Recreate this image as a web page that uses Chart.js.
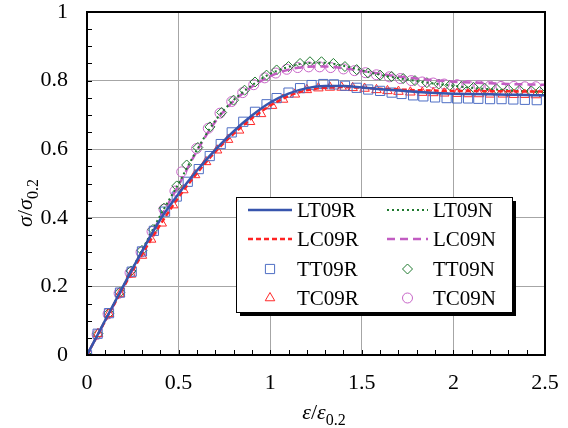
<!DOCTYPE html>
<html>
<head>
<meta charset="utf-8">
<script src="https://cdn.jsdelivr.net/npm/chart.js@4.4.0/dist/chart.umd.min.js"></script>
<style>
  html, body { margin: 0; padding: 0; background: #fff; }
  #wrap { width: 568px; height: 428px; }
</style>
</head>
<body>
<div id="wrap"><canvas id="c" width="568" height="428"></canvas></div>
<script>
// strain grid for the fitted curves (eps / eps0.2)
var strainGrid = [0, 0.1, 0.2, 0.3, 0.4, 0.5, 0.6, 0.7, 0.8, 0.9, 1.0, 1.1, 1.2, 1.3, 1.4, 1.5, 1.6, 1.7, 1.8, 1.9, 2.0, 2.1, 2.2, 2.3, 2.4, 2.5];

// curves (sigma / sigma0.2)
var lt09R = [0, 0.102, 0.203, 0.302, 0.395, 0.470, 0.538, 0.598, 0.652, 0.698, 0.736, 0.762, 0.778, 0.784, 0.784, 0.780, 0.775, 0.771, 0.767, 0.764, 0.762, 0.761, 0.760, 0.759, 0.758, 0.757];
var lc09R = [0, 0.100, 0.198, 0.293, 0.380, 0.460, 0.530, 0.592, 0.645, 0.690, 0.727, 0.755, 0.772, 0.779, 0.781, 0.779, 0.776, 0.774, 0.772, 0.771, 0.770, 0.770, 0.769, 0.769, 0.768, 0.768];
var lt09N = [0, 0.102, 0.203, 0.305, 0.407, 0.500, 0.598, 0.683, 0.743, 0.786, 0.820, 0.840, 0.851, 0.852, 0.843, 0.830, 0.817, 0.807, 0.799, 0.791, 0.785, 0.779, 0.775, 0.772, 0.769, 0.767];
var lc09N = [0, 0.100, 0.200, 0.300, 0.400, 0.495, 0.595, 0.680, 0.740, 0.782, 0.813, 0.832, 0.840, 0.841, 0.836, 0.828, 0.820, 0.812, 0.806, 0.801, 0.797, 0.794, 0.792, 0.790, 0.789, 0.788];

// test points
var tt09R_x = [0, 0.058, 0.12, 0.18, 0.244, 0.30, 0.365, 0.426, 0.49, 0.55, 0.61, 0.67, 0.73, 0.79, 0.853, 0.917, 0.98, 1.035, 1.1, 1.163, 1.226, 1.29, 1.348, 1.408, 1.472, 1.535, 1.6, 1.663, 1.717, 1.78, 1.836, 1.9, 1.963, 2.02, 2.08, 2.136, 2.2, 2.263, 2.327, 2.39, 2.455];
var tt09R_y = [0, 0.062, 0.122, 0.182, 0.243, 0.302, 0.362, 0.418, 0.462, 0.505, 0.542, 0.580, 0.615, 0.649, 0.680, 0.709, 0.731, 0.749, 0.765, 0.778, 0.787, 0.790, 0.789, 0.785, 0.779, 0.774, 0.770, 0.765, 0.761, 0.757, 0.754, 0.751, 0.749, 0.748, 0.748, 0.747, 0.746, 0.746, 0.745, 0.744, 0.743];

var tc09R_x = [0, 0.06, 0.12, 0.18, 0.24, 0.30, 0.35, 0.408, 0.47, 0.526, 0.59, 0.65, 0.71, 0.77, 0.83, 0.89, 0.95, 1.01, 1.07, 1.135, 1.2, 1.263, 1.326, 1.39, 1.45, 1.515, 1.58, 1.64, 1.70, 1.765, 1.83, 1.89, 1.95, 2.02, 2.08, 2.14, 2.2, 2.27, 2.33, 2.39, 2.45];
var tc09R_y = [0, 0.062, 0.120, 0.178, 0.235, 0.290, 0.337, 0.384, 0.437, 0.481, 0.525, 0.563, 0.597, 0.628, 0.655, 0.680, 0.703, 0.727, 0.745, 0.760, 0.773, 0.778, 0.780, 0.780, 0.779, 0.777, 0.773, 0.770, 0.768, 0.766, 0.765, 0.764, 0.763, 0.762, 0.761, 0.761, 0.760, 0.760, 0.759, 0.759, 0.758];

var tt09N_x = [0, 0.06, 0.12, 0.18, 0.24, 0.30, 0.36, 0.42, 0.49, 0.544, 0.605, 0.671, 0.735, 0.80, 0.86, 0.917, 0.98, 1.035, 1.1, 1.163, 1.217, 1.28, 1.345, 1.408, 1.472, 1.535, 1.6, 1.663, 1.726, 1.79, 1.855, 1.92, 1.98, 2.045, 2.11, 2.17, 2.235, 2.3, 2.36, 2.425, 2.47];
var tt09N_y = [0, 0.062, 0.122, 0.183, 0.245, 0.305, 0.366, 0.428, 0.493, 0.554, 0.605, 0.665, 0.707, 0.743, 0.772, 0.796, 0.816, 0.831, 0.841, 0.850, 0.855, 0.855, 0.850, 0.841, 0.832, 0.822, 0.816, 0.812, 0.806, 0.800, 0.794, 0.790, 0.786, 0.783, 0.780, 0.778, 0.776, 0.774, 0.772, 0.770, 0.768];

var tc09N_x = [0, 0.055, 0.115, 0.175, 0.235, 0.295, 0.355, 0.42, 0.48, 0.517, 0.598, 0.662, 0.726, 0.79, 0.85, 0.91, 0.97, 1.03, 1.09, 1.15, 1.21, 1.27, 1.33, 1.40, 1.46, 1.52, 1.58, 1.65, 1.71, 1.77, 1.83, 1.89, 1.95, 2.02, 2.08, 2.14, 2.2, 2.26, 2.33, 2.39, 2.45];
var tc09N_y = [0, 0.060, 0.120, 0.180, 0.240, 0.300, 0.360, 0.425, 0.478, 0.534, 0.602, 0.661, 0.705, 0.739, 0.765, 0.788, 0.808, 0.822, 0.833, 0.838, 0.840, 0.840, 0.838, 0.834, 0.829, 0.823, 0.817, 0.811, 0.806, 0.800, 0.796, 0.793, 0.790, 0.788, 0.786, 0.785, 0.784, 0.783, 0.783, 0.782, 0.782];

// tick labels
var xTickValues = [0, 0.5, 1, 1.5, 2, 2.5];
var xTickLabels = ['0', '0.5', '1', '1.5', '2', '2.5'];
var yTickValues = [0, 0.2, 0.4, 0.6, 0.8, 1];
var yTickLabels = ['0', '0.2', '0.4', '0.6', '0.8', '1'];

var FONT = "'Liberation Serif', 'DejaVu Serif', serif";

function pairs(xs, ys) {
    return xs.map(function (x, i) { return { x: x, y: ys[i] }; });
}

function findLabel(v, values, labels) {
    for (var i = 0; i < values.length; i++) {
        if (Math.abs(v - values[i]) < 1e-6) return labels[i];
    }
    return '';
}

function isMajor(v, values) {
    return findLabel(v, values, values.map(function () { return 'x'; })) !== '';
}

// lignes
function curve(label, ys, color, dash, width) {
    return {
        label: label, data: pairs(strainGrid, ys), showLine: true,
        borderColor: color, borderWidth: width, borderDash: dash,
        pointRadius: 0, cubicInterpolationMode: 'monotone', order: 0
    };
}

// points
function points(label, xs, ys, color, style, radius) {
    return {
        label: label, data: pairs(xs, ys), showLine: false,
        borderColor: color, backgroundColor: 'rgba(0,0,0,0)', borderWidth: 1,
        pointStyle: style, pointRadius: radius, order: 1
    };
}

var datasets = [
    curve('LT09R', lt09R, '#3755ad', [], 2.5),
    curve('LC09R', lc09R, '#ff2323', [5, 3], 2.5),
    points('TT09R', tt09R_x, tt09R_y, '#4e6ec4', 'rect', 6.5),
    points('TC09R', tc09R_x, tc09R_y, '#ff2a2a', 'triangle', 5.5),
    curve('LT09N', lt09N, '#1f7a2f', [2, 3], 2),
    curve('LC09N', lc09N, '#c25cc2', [8, 5], 2.5),
    points('TT09N', tt09N_x, tt09N_y, '#1f7a2f', 'rectRot', 5),
    points('TC09N', tc09N_x, tc09N_y, '#c866c8', 'circle', 5)
];

/* cadre, petits traits vers l'interieur, titres et legende */
var decorations = {
    id: 'decorations',
    afterDatasetsDraw: function (chart) {
        var c = chart.ctx;
        var a = chart.chartArea;
        var xs = chart.scales.x, ys = chart.scales.y;
        c.save();
        c.strokeStyle = '#000';
        c.lineWidth = 1;
        xs.ticks.forEach(function (t) {
            var px = Math.round(xs.getPixelForValue(t.value)) + 0.5;
            c.beginPath(); c.moveTo(px, a.bottom); c.lineTo(px, a.bottom - 5); c.stroke();
        });
        ys.ticks.forEach(function (t) {
            var py = Math.round(ys.getPixelForValue(t.value)) + 0.5;
            c.beginPath(); c.moveTo(a.left, py); c.lineTo(a.left + 5, py); c.stroke();
        });
        c.lineWidth = 2;
        c.strokeRect(a.left, a.top, a.right - a.left, a.bottom - a.top);

        // titres des axes
        c.fillStyle = '#000';
        c.textBaseline = 'alphabetic';
        drawRich(c, [['ε', 'italic 22px ' + FONT, 0], ['/', '22px ' + FONT, 0], ['ε', 'italic 22px ' + FONT, 0], ['0.2', '16px ' + FONT, 6]], 324, 419);
        c.save();
        c.translate(32, 203);
        c.rotate(-Math.PI / 2);
        drawRich(c, [['σ', 'italic 22px ' + FONT, 0], ['/', '22px ' + FONT, 0], ['σ', 'italic 22px ' + FONT, 0], ['0.2', '16px ' + FONT, 6]], 0, 0);
        c.restore();

        // legende
        var x0 = 236, y0 = 197, w = 276, h = 115;
        c.fillStyle = '#000';
        c.fillRect(x0 + 4, y0 + 4, w, h);
        c.fillStyle = '#fff';
        c.fillRect(x0, y0, w, h);
        c.lineWidth = 1;
        c.strokeStyle = '#000';
        c.strokeRect(x0 + 0.5, y0 + 0.5, w, h);

        var colX = [[248, 292, 297], [387, 428, 433]];
        var rowY = [210, 239, 269, 298];
        chart.data.datasets.forEach(function (ds, i) {
            var col = colX[i < 4 ? 0 : 1];
            var y = rowY[i % 4];
            c.save();
            c.strokeStyle = ds.borderColor;
            if (ds.showLine) {
                c.lineWidth = ds.borderWidth;
                c.setLineDash(ds.borderDash);
                c.beginPath(); c.moveTo(col[0], y); c.lineTo(col[1], y); c.stroke();
            } else {
                c.lineWidth = 1;
                c.fillStyle = 'rgba(0,0,0,0)';
                Chart.helpers.drawPoint(c, { pointStyle: ds.pointStyle, radius: ds.pointRadius, rotation: 0, borderWidth: 1 }, (col[0] + col[1]) / 2, y);
            }
            c.restore();
            c.fillStyle = '#000';
            c.font = '21px ' + FONT;
            c.textAlign = 'left';
            c.textBaseline = 'middle';
            c.fillText(ds.label, col[2], y + 1);
        });
        c.restore();
    }
};

function drawRich(c, parts, cx, baseY) {
    var total = 0;
    parts.forEach(function (p) { c.font = p[1]; total += c.measureText(p[0]).width; });
    var x = cx - total / 2;
    c.textAlign = 'left';
    parts.forEach(function (p) {
        c.font = p[1];
        c.fillText(p[0], x, baseY + p[2]);
        x += c.measureText(p[0]).width;
    });
}

var ctx = document.getElementById('c').getContext('2d');
var chart = new Chart(ctx, {
    type: 'scatter',
    data: { datasets: datasets },
    options: {
        responsive: false,
        animation: false,
        layout: { padding: { top: 12, right: 23, left: 0, bottom: 0 } },
        plugins: { legend: { display: false }, tooltip: { enabled: false } },
        scales: {
            x: {
                type: 'linear', min: 0, max: 2.5,
                afterFit: function (s) { s.height = 73; s.paddingLeft = 0; s.paddingRight = 0; },
                border: { display: false },
                grid: {
                    drawTicks: false,
                    color: function (c) {
                        var v = c.tick ? c.tick.value : 0;
                        return (isMajor(v, xTickValues) && v > 0 && v < 2.5) ? '#a6a6a6' : 'rgba(0,0,0,0)';
                    }
                },
                ticks: {
                    stepSize: 0.1, autoSkip: false, maxRotation: 0, padding: 15,
                    color: '#000', font: { family: FONT, size: 22 },
                    callback: function (v) { return findLabel(v, xTickValues, xTickLabels); }
                }
            },
            y: {
                type: 'linear', min: 0, max: 1,
                afterFit: function (s) { s.width = 87; s.paddingTop = 0; s.paddingBottom = 0; },
                border: { display: false },
                grid: {
                    drawTicks: false,
                    color: function (c) {
                        var v = c.tick ? c.tick.value : 0;
                        return (isMajor(v, yTickValues) && v > 0 && v < 1) ? '#a6a6a6' : 'rgba(0,0,0,0)';
                    }
                },
                ticks: {
                    stepSize: 0.05, autoSkip: false, padding: 19,
                    color: '#000', font: { family: FONT, size: 22 },
                    callback: function (v) { return findLabel(v, yTickValues, yTickLabels); }
                }
            }
        }
    },
    plugins: [decorations]
});
</script>
</body>
</html>
